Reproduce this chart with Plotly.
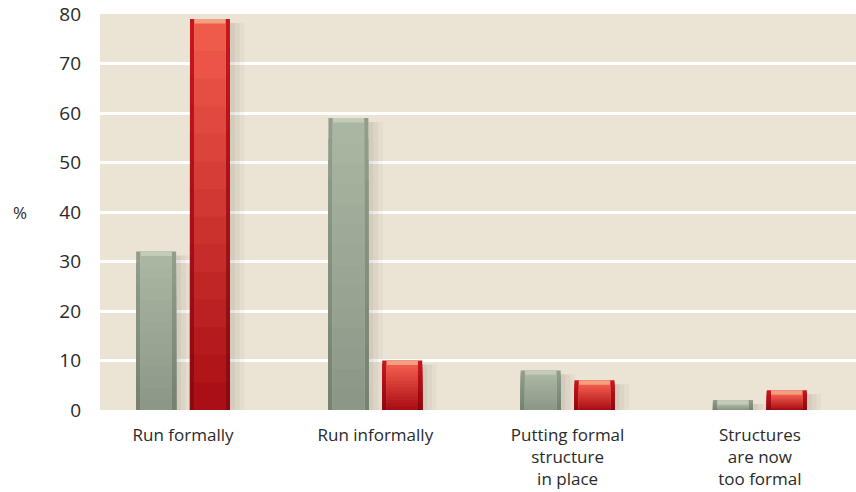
import plotly.graph_objects as go

categories = ["Run formally", "Run informally", "Putting formal<br>structure<br>in place", "Structures<br>are now<br>too formal"]
series_a = [32, 59, 8, 2]   # grey-green series
series_b = [79, 10, 6, 4]   # red series
y_ticks = [0, 10, 20, 30, 40, 50, 60, 70, 80]

BW = 0.208
OFF_A = -0.244
OFF_B = 0.036
EDGE = 0.022
STEPS = 14

fig = go.Figure()


def mix(c1, c2, t):
    a = [int(c1[i:i + 2], 16) for i in (1, 3, 5)]
    b = [int(c2[i:i + 2], 16) for i in (1, 3, 5)]
    return "#%02x%02x%02x" % tuple(round(a[j] + (b[j] - a[j]) * t) for j in range(3))


def add_series(vals, off, edge_top, edge_bot, face_top, face_bot, hi_col):
    # soft shadow to the right
    for i, op in enumerate([0.16, 0.10, 0.05]):
        fig.add_trace(go.Bar(x=categories, y=[max(v - 0.8, 0) for v in vals], offset=off + BW + i * 0.025, width=0.025,
                             marker=dict(color=f"rgba(90,80,60,{op})", line=dict(width=0)),
                             hoverinfo="skip", showlegend=False))
    # edge (bevel sides) with stepped vertical gradient
    for k in range(STEPS):
        f = 1 - k / STEPS
        fig.add_trace(go.Bar(x=categories, y=[v * f for v in vals], offset=off, width=BW,
                             marker=dict(color=mix(edge_top, edge_bot, k / (STEPS - 1)), line=dict(width=0)),
                             hoverinfo="skip" if k else None, showlegend=False))
    # top highlight
    fig.add_trace(go.Bar(x=categories, y=vals, offset=off + EDGE, width=BW - 2 * EDGE,
                         marker=dict(color=hi_col, line=dict(width=0)), hoverinfo="skip", showlegend=False))
    # face with stepped vertical gradient
    for k in range(STEPS):
        f = 1 - k / STEPS
        fig.add_trace(go.Bar(x=categories, y=[max(v - 0.9, 0) * f for v in vals], offset=off + EDGE,
                             width=BW - 2 * EDGE,
                             marker=dict(color=mix(face_top, face_bot, k / (STEPS - 1)), line=dict(width=0)),
                             hoverinfo="skip", showlegend=False))


add_series(series_a, OFF_A, "#919e8b", "#778172", "#a9b6a1", "#8d9788", "#c3ccb8")
add_series(series_b, OFF_B, "#c8161d", "#8a0a10", "#ef5b4b", "#ab0f16", "#f4a080")

fig.update_layout(
    width=856, height=492,
    margin=dict(l=100, r=0, t=14, b=82),
    paper_bgcolor="white",
    plot_bgcolor="#ebe4d5",
    barmode="overlay",
    font=dict(family="Open Sans, sans-serif", color="#2a2a2a"),
    showlegend=False,
    xaxis=dict(range=[-0.432, 3.5], showgrid=False, zeroline=False, showline=False,
               tickfont=dict(size=17, color="#2a2a2a"), ticks="", ticklabelstandoff=13,
               fixedrange=True),
    yaxis=dict(range=[0, 80], tickvals=y_ticks, showgrid=True, gridcolor="white", gridwidth=3,
               zeroline=False, showline=False, tickfont=dict(size=19, color="#2a2a2a"),
               ticks="", ticklabelstandoff=18, fixedrange=True),
    annotations=[dict(text="%", x=(20 - 100) / 756, y=(410 - 212) / 396, xref="paper", yref="paper",
                      xanchor="center", yanchor="middle", showarrow=False,
                      font=dict(size=17, color="#2a2a2a"))],
)

fig.write_html("out.html")
